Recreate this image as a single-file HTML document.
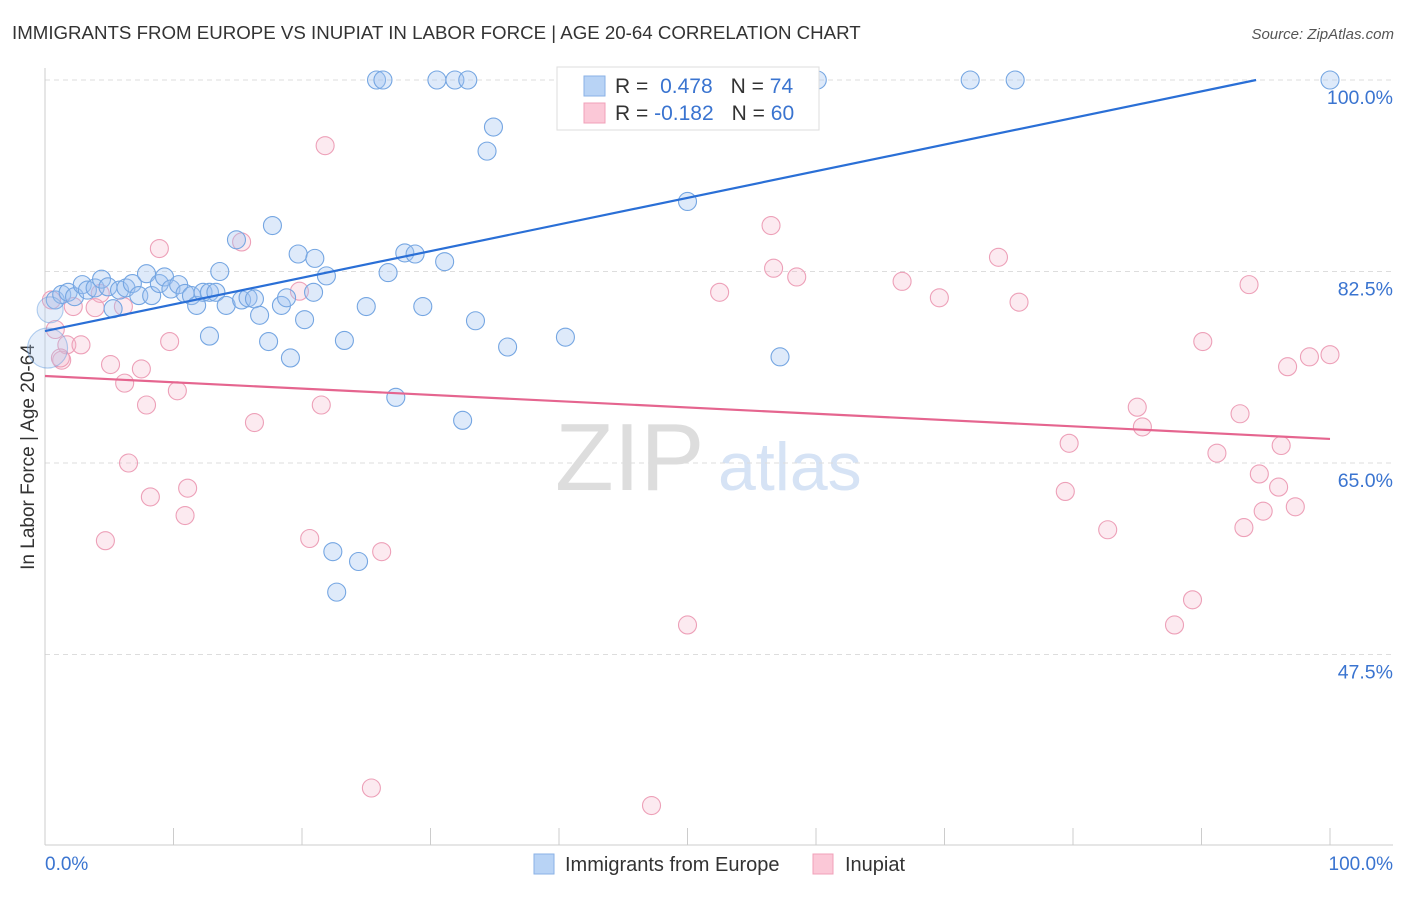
<!DOCTYPE html>
<html><head><meta charset="utf-8"><style>
body{margin:0;background:#fff;font-family:"Liberation Sans",sans-serif}
svg text{font-family:"Liberation Sans",sans-serif}
</style></head><body>
<svg id="c" width="1406" height="892" viewBox="0 0 1406 892">
<text x="12" y="39" font-size="18.7" fill="#333">IMMIGRANTS FROM EUROPE VS INUPIAT IN LABOR FORCE | AGE 20-64 CORRELATION CHART</text>
<text x="1394" y="39" font-size="15" fill="#555" font-style="italic" text-anchor="end">Source: ZipAtlas.com</text>
<text x="34" y="457" font-size="19" fill="#333" text-anchor="middle" transform="rotate(-90 34 457)">In Labor Force | Age 20-64</text>
<text x="555" y="490" font-size="96" fill="#ddd" font-family="Liberation Serif">ZIP</text>
<text x="718" y="490" font-size="68" fill="#d6e3f5">atlas</text>
<g id="grid"></g><g id="pts"></g><g id="lines"></g>
<g>
<rect x="557" y="67" width="262" height="63" fill="#fff" stroke="#ddd"/>
<rect x="584" y="76" width="21" height="20" fill="#b8d3f5" stroke="#8ab2e6"/>
<rect x="584" y="103" width="21" height="20" fill="#fbc8d7" stroke="#f0a0b8"/>
<text x="615" y="93" font-size="21" fill="#333">R = <tspan fill="#3a74d0" dx="6">0.478</tspan><tspan fill="#333" dx="18">N = </tspan><tspan fill="#3a74d0">74</tspan></text>
<text x="615" y="120" font-size="21" fill="#333">R = <tspan fill="#3a74d0">-0.182</tspan><tspan fill="#333" dx="18">N = </tspan><tspan fill="#3a74d0">60</tspan></text>
</g>
<g>
<rect x="534" y="854" width="20" height="20" fill="#b8d3f5" stroke="#8ab2e6"/>
<text x="565" y="871" font-size="20" fill="#333">Immigrants from Europe</text>
<rect x="813" y="854" width="20" height="20" fill="#fbc8d7" stroke="#f0a0b8"/>
<text x="845" y="871" font-size="20" fill="#333">Inupiat</text>
</g>
</svg>
<script>
const yTicks=[100,82.5,65,47.5];
const yTickLabels=["100.0%","82.5%","65.0%","47.5%"];
const xTickCount=10;
const blueX=[0.8,1.3,1.8,2.3,2.9,3.3,3.9,4.4,4.9,5.3,5.8,6.3,6.8,7.3,7.9,8.3,8.9,9.3,9.8,10.4,10.9,11.4,11.8,12.3,12.8,13.3,13.6,14.1,14.9,15.3,15.8,16.3,16.7,17.4,17.7,18.4,18.8,19.1,19.7,20.2,20.9,21.0,21.9,22.4,22.7,23.3,24.4,25.0,25.8,26.3,26.7,27.3,28.0,28.8,29.4,30.5,31.1,31.9,32.5,32.9,33.5,34.4,34.9,36.0,40.5,50.0,57.2,60.1,72.0,75.5,100,12.8,0.2,0.4];
const blueY=[79.9,80.4,80.6,80.2,81.3,80.8,81.0,81.8,81.1,79.1,80.8,81.0,81.4,80.3,82.3,80.3,81.4,82.0,80.9,81.3,80.5,80.3,79.4,80.6,80.6,80.6,82.5,79.4,85.4,79.9,80.1,80.0,78.5,76.1,86.7,79.4,80.1,74.6,84.1,78.1,80.6,83.7,82.1,56.9,53.2,76.2,56.0,79.3,100,100,82.4,71.0,84.2,84.1,79.3,100,83.4,100,68.9,100,78.0,93.5,95.7,75.6,76.5,88.9,74.7,100,100,100,100,76.6,75.5,79.0];
const blueSize=[9,9,9,9,9,9,9,9,9,9,9,9,9,9,9,9,9,9,9,9,9,9,9,9,9,9,9,9,9,9,9,9,9,9,9,9,9,9,9,9,9,9,9,9,9,9,9,9,9,9,9,9,9,9,9,9,9,9,9,9,9,9,9,9,9,9,9,9,9,9,9,9,20,13];
const pinkX=[0.5,0.8,1.3,1.7,2.2,2.8,4.3,4.7,5.1,6.1,6.2,6.5,7.5,7.9,8.2,8.9,9.7,10.3,10.9,11.1,15.3,16.3,19.8,20.6,21.5,21.8,25.4,26.2,47.2,50.0,52.5,56.5,56.7,58.5,66.7,69.6,74.2,75.8,79.4,79.7,82.7,85.0,85.4,87.9,89.3,90.1,91.2,93.0,93.3,93.7,94.5,94.8,96.0,96.2,96.7,97.3,98.4,100,3.9,1.2];
const pinkY=[79.9,77.2,74.4,75.8,79.3,75.8,80.5,57.9,74.0,79.3,72.3,65.0,73.6,70.3,61.9,84.6,76.1,71.6,60.2,62.7,85.2,68.7,80.7,58.1,70.3,94.0,35.3,56.9,33.7,50.2,80.6,86.7,82.8,82.0,81.6,80.1,83.8,79.7,62.4,66.8,58.9,70.1,68.3,50.2,52.5,76.1,65.9,69.5,59.1,81.3,64.0,60.6,62.8,66.6,73.8,61.0,74.7,74.9,79.2,74.6];
const blueTrend=[77.06,101.4];
const pinkTrend=[72.95,67.2];
const X0=45,X1=1330,YT=80,PX=10.943;
const sx=v=>X0+(X1-X0)*v/100;
const sy=v=>YT+(100-v)*PX;
const NS="http://www.w3.org/2000/svg";
function mk(t,a,p){const e=document.createElementNS(NS,t);for(const k in a)e.setAttribute(k,a[k]);p.appendChild(e);return e;}
const grid=document.getElementById('grid');
yTicks.forEach((t,i)=>{
 const l=mk('line',{x1:45,x2:1393,y1:sy(t),y2:sy(t),stroke:'#ddd','stroke-dasharray':'5,4'},grid);
 
 
 const tx=mk('text',{x:1393,y:sy(t)+24,'font-size':19.5,fill:'#3a74d0','text-anchor':'end'},grid);
 tx.textContent=yTickLabels[i];
 
 
});
mk('line',{x1:45,x2:45,y1:68,y2:845,stroke:'#ccc'},grid);
mk('line',{x1:45,x2:1393,y1:845,y2:845,stroke:'#ccc'},grid);
for(let i=0;i<=xTickCount;i++){
 const x=sx(i*100/xTickCount);
 const t=mk('line',{x1:x,x2:x,y1:828,y2:845,stroke:'#ccc'},grid);
 
 
}
const xl=mk('text',{x:45,y:870,'font-size':19,fill:'#3a74d0'},grid);xl.textContent='0.0%';


const xr=mk('text',{x:1393,y:870,'font-size':19,fill:'#3a74d0','text-anchor':'end'},grid);xr.textContent='100.0%';


const pts=document.getElementById('pts');
pinkX.forEach((v,i)=>{
 const c=mk('circle',{cx:sx(v),cy:sy(pinkY[i]),r:9,fill:'rgba(246,178,200,0.28)',stroke:'#eda0b8','stroke-width':1.1},pts);
 
 
});
blueX.forEach((v,i)=>{
 const big=blueSize[i]>9;
 const c=mk('circle',{cx:sx(v),cy:sy(blueY[i]),r:blueSize[i],fill:big?'rgba(170,200,240,0.3)':'rgba(160,196,240,0.35)',stroke:big?'rgba(106,159,224,0.5)':'#75a6e2','stroke-width':1.1},pts);
 
 
});
const lines=document.getElementById('lines');
const bs=(blueTrend[1]-blueTrend[0])/100, bx=(100-blueTrend[0])/bs;
const bl=mk('line',{x1:sx(0),y1:sy(blueTrend[0]),x2:sx(Math.min(100,bx)),y2:sy(Math.min(100,blueTrend[1])),stroke:'#2a6fd6','stroke-width':2.2},lines);


const pl=mk('line',{x1:sx(0),y1:sy(pinkTrend[0]),x2:sx(100),y2:sy(pinkTrend[1]),stroke:'#e5658f','stroke-width':2.2},lines);


</script>
</body></html>
